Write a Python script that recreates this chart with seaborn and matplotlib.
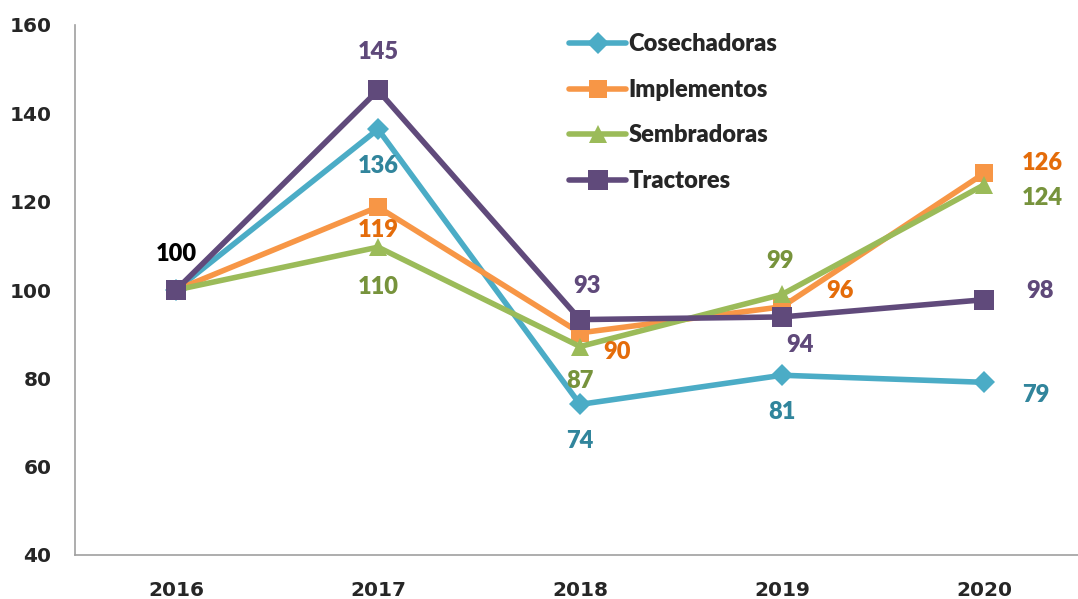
import matplotlib
matplotlib.use("Agg")
import matplotlib.pyplot as plt
import seaborn as sns
import pandas as pd

years = ["2016", "2017", "2018", "2019", "2020"]
series = ["Cosechadoras", "Implementos", "Sembradoras", "Tractores"]
cosechadoras = [100, 136.4, 74.1, 80.7, 79.1]
implementos = [100, 118.8, 90.3, 96.2, 126.4]
sembradoras = [100, 109.7, 87.2, 99.0, 123.8]
tractores = [100, 145.2, 93.3, 93.9, 97.8]

line_colors = {"Cosechadoras": "#4BACC6", "Implementos": "#F79646",
               "Sembradoras": "#9BBB59", "Tractores": "#604A7B"}
label_colors = {"Cosechadoras": "#31859C", "Implementos": "#E46C0A",
                "Sembradoras": "#77933C", "Tractores": "#5F497A"}
markers = {"Cosechadoras": "D", "Implementos": "s", "Sembradoras": "^", "Tractores": "s"}
msizes = {"Cosechadoras": 11.5, "Implementos": 13, "Sembradoras": 13, "Tractores": 14}

values = {"Cosechadoras": cosechadoras, "Implementos": implementos,
          "Sembradoras": sembradoras, "Tractores": tractores}

rows = []
for s in series:
    for i, y in enumerate(years):
        rows.append({"pos": i, "year": y, "serie": s, "value": values[s][i]})
df = pd.DataFrame(rows)

sns.set_style("white")
plt.rcParams["font.family"] = ["Lato", "DejaVu Sans"]

fig = plt.figure(figsize=(10.78, 5.99), dpi=100)
ax = fig.add_axes([75 / 1078, 44 / 599, 1003 / 1078, 530 / 599])

sns.lineplot(data=df, x="pos", y="value", hue="serie", style="serie",
             hue_order=series, style_order=series, palette=line_colors,
             markers=markers, dashes=False, linewidth=4, markersize=12,
             markeredgewidth=0, ax=ax)
for line, s in zip(ax.lines, series):
    line.set_markersize(msizes[s])

# label offsets in pixels (dx, dy) per series and year
offsets = {
    "Cosechadoras": [None, (0, -37), (0, -37), (0, -37), (52, -13)],
    "Implementos": [None, (0, -23), (37, -19), (58, 16), (58, 10)],
    "Sembradoras": [None, (0, -40), (0, -34), (-2, 33), (58, -13)],
    "Tractores": [(0, 36), (0, 38), (7, 34), (18, -28), (56, 9)],
}
for s in series:
    for i, off in enumerate(offsets[s]):
        if off is None:
            continue
        v = values[s][i]
        col = "black" if i == 0 else label_colors[s]
        ax.annotate(f"{round(v):d}", (i, v), xytext=off, textcoords="offset pixels",
                    ha="center", va="center", fontsize=17, fontweight="heavy", color=col)

ax.set_xlim(-0.5, 4.465)
ax.set_ylim(40, 160)
ax.set_yticks(range(40, 161, 20))
ax.set_xticks(range(5))
ax.set_xticklabels(years)
ax.set_xticks([0.5, 1.5, 2.5, 3.5], minor=True)
ax.tick_params(axis="x", which="major", length=0, pad=19)
ax.tick_params(axis="x", which="minor", length=7, color="#A0A0A0", direction="out", width=1.2)
ax.tick_params(axis="y", length=7, color="#A0A0A0", direction="out", width=1.2, pad=10)
for lab in ax.get_xticklabels() + ax.get_yticklabels():
    lab.set_fontfamily("DejaVu Sans")
    lab.set_fontweight("bold")
    lab.set_fontsize(14.5)
ax.set_xlabel("")
ax.set_ylabel("")
for sp in ["top", "right"]:
    ax.spines[sp].set_visible(False)
for sp in ["left", "bottom"]:
    ax.spines[sp].set_color("#A0A0A0")
    ax.spines[sp].set_linewidth(1.2)

handles, labels = ax.get_legend_handles_labels()
for h, s in zip(handles, labels):
    h.set_markersize(msizes[s])
leg = ax.legend(handles, labels, loc="upper left", bbox_to_anchor=(548 / 1078, 1 - 12 / 599),
                bbox_transform=fig.transFigure, frameon=False, handlelength=2.4,
                handletextpad=0.1, labelspacing=1.0,
                prop={"family": "Lato", "weight": "heavy", "size": 17})

fig.savefig("out.png", dpi=100)
